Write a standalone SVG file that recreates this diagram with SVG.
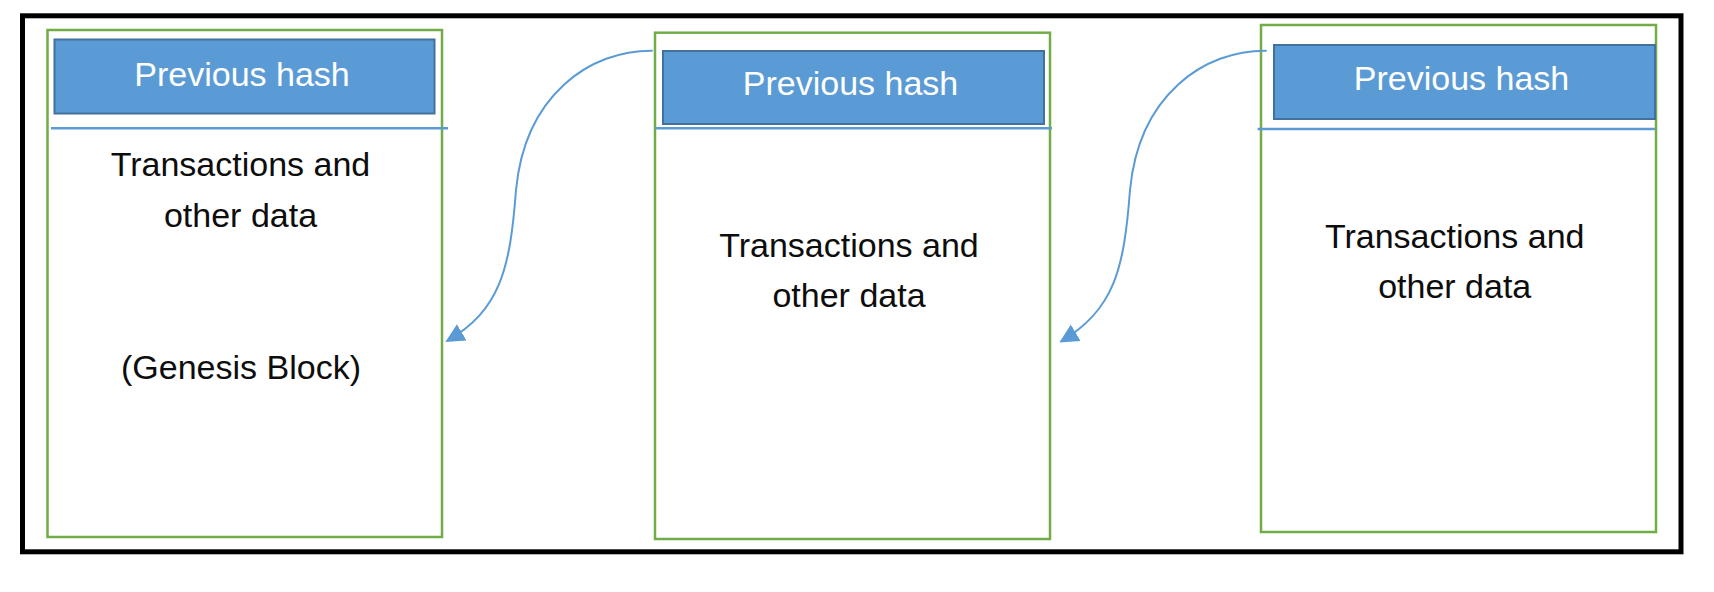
<svg xmlns="http://www.w3.org/2000/svg" width="1714" height="592" viewBox="0 0 1714 592">
  <style>
    .frame { fill: none; stroke: #000000; stroke-width: 5; }
    .block { fill: #FFFFFF; stroke: #70AD47; stroke-width: 2.5; }
    .hdr { fill: #5B9BD5; stroke: #41719C; stroke-width: 2; }
    .sep { stroke: #5B9BD5; stroke-width: 2.5; }
    .hdrtxt { font-family: "Liberation Sans", Arial, sans-serif; font-size: 34px; fill: #FFFFFF; text-anchor: middle; }
    .body { font-family: "Liberation Sans", Arial, sans-serif; font-size: 34px; fill: #0D0D0D; text-anchor: middle; }
    .link { fill: none; stroke: #5B9BD5; stroke-width: 2; }
  </style>
  <defs>
    <marker id="arrow" viewBox="0 0 10 10" refX="9" refY="5" markerUnits="userSpaceOnUse" markerWidth="19" markerHeight="21" orient="auto">
      <path d="M0,0 L10,5 L0,10 z" fill="#5B9BD5"/>
    </marker>
  </defs>
  <rect width="1714" height="592" fill="#FFFFFF"/>
  <rect class="frame" x="22.5" y="15.8" width="1658.5" height="536"/>

  <g id="block1">
    <rect class="block" x="47.5" y="30" width="394.5" height="507"/>
    <rect class="hdr" x="54.5" y="39.5" width="380" height="74"/>
    <line class="sep" x1="51" y1="128.3" x2="448" y2="128.3"/>
    <text class="hdrtxt" x="242" y="86">Previous hash</text>
    <text class="body" x="240.5" y="176">Transactions and</text>
    <text class="body" x="240.5" y="226.7">other data</text>
    <text class="body" x="241" y="379">(Genesis Block)</text>
  </g>

  <g id="block2">
    <rect class="block" x="655" y="32.7" width="395" height="506.3"/>
    <rect class="hdr" x="663" y="51" width="381" height="73"/>
    <line class="sep" x1="655" y1="128.3" x2="1052" y2="128.3"/>
    <text class="hdrtxt" x="850.5" y="95">Previous hash</text>
    <text class="body" x="849" y="256.7">Transactions and</text>
    <text class="body" x="849" y="306.7">other data</text>
  </g>

  <g id="block3">
    <rect class="block" x="1261" y="25" width="395" height="507"/>
    <rect class="hdr" x="1274" y="45" width="381" height="74"/>
    <line class="sep" x1="1257.6" y1="129" x2="1655" y2="129"/>
    <text class="hdrtxt" x="1461.5" y="90">Previous hash</text>
    <text class="body" x="1454.7" y="248">Transactions and</text>
    <text class="body" x="1454.7" y="298">other data</text>
  </g>

  <g id="connectors">
    <path class="link" marker-end="url(#arrow)" d="M652.7,50.7 C590,50 525,95 516,190 C510,270 500,310 447,341"/>
    <path class="link" marker-end="url(#arrow)" d="M1266.7,50.7 C1204,50 1139,95 1130,190 C1124,270 1114,310 1061,341.5"/>
  </g>
</svg>
